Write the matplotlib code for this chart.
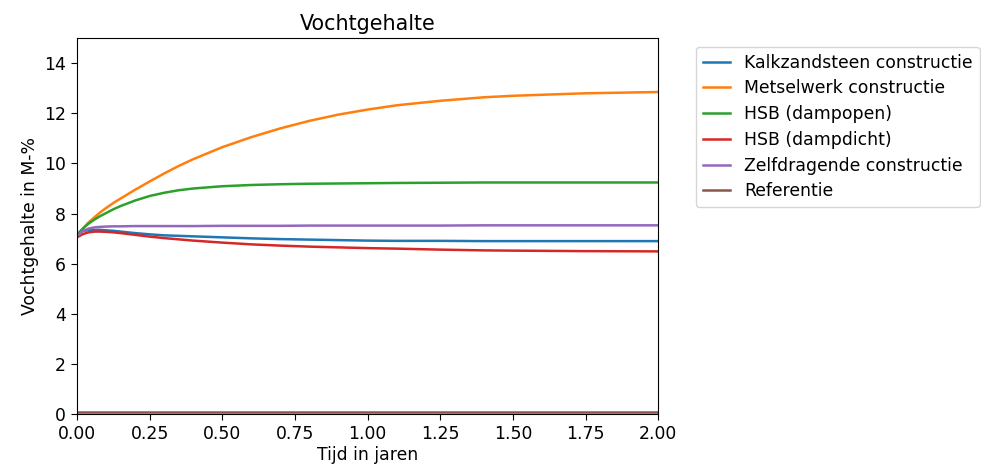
import matplotlib
matplotlib.use("Agg")
import matplotlib.pyplot as plt

# tijdstippen (jaren) en vochtgehalte per constructie (M-%)
tijd = [0, 0.02, 0.04, 0.06, 0.08, 0.1, 0.125, 0.15, 0.2, 0.25, 0.3, 0.35, 0.4,
        0.5, 0.6, 0.7, 0.8, 0.9, 1.0, 1.1, 1.25, 1.4, 1.5, 1.75, 2.0]

kalkzandsteen = [7.2, 7.3, 7.34, 7.35, 7.35, 7.33, 7.31, 7.28, 7.22, 7.17, 7.13, 7.11, 7.09,
                 7.05, 7.01, 6.98, 6.96, 6.94, 6.92, 6.91, 6.91, 6.9, 6.9, 6.9, 6.9]
metselwerk = [7.15, 7.4, 7.65, 7.85, 8.05, 8.22, 8.42, 8.6, 8.95, 9.28, 9.6, 9.9, 10.17,
              10.65, 11.05, 11.4, 11.7, 11.95, 12.15, 12.32, 12.5, 12.64, 12.7, 12.8, 12.85]
hsb_open = [7.15, 7.4, 7.6, 7.76, 7.9, 8.02, 8.17, 8.3, 8.52, 8.7, 8.83, 8.93, 9.0,
            9.09, 9.14, 9.17, 9.19, 9.2, 9.21, 9.22, 9.23, 9.24, 9.24, 9.24, 9.24]
hsb_dicht = [7.05, 7.18, 7.25, 7.28, 7.28, 7.27, 7.25, 7.22, 7.15, 7.08, 7.02, 6.97, 6.92,
             6.84, 6.77, 6.72, 6.68, 6.65, 6.62, 6.6, 6.56, 6.53, 6.52, 6.5, 6.49]
zelfdragend = [7.1, 7.3, 7.4, 7.45, 7.47, 7.48, 7.49, 7.49, 7.5, 7.5, 7.5, 7.5, 7.5,
               7.51, 7.51, 7.51, 7.52, 7.52, 7.52, 7.52, 7.52, 7.53, 7.53, 7.53, 7.53]
referentie = [0.1] * len(tijd)

labels = ['Kalkzandsteen constructie', 'Metselwerk constructie', 'HSB (dampopen)',
          'HSB (dampdicht)', 'Zelfdragende constructie', 'Referentie']

# tekst in de referentie is ongeveer 1.24x groter dan de standaard
plt.rcParams['font.size'] = 12.4
plt.rcParams['xtick.major.size'] = 4.3
plt.rcParams['ytick.major.size'] = 4.3
plt.rcParams['lines.linewidth'] = 1.8

fig = plt.figure(figsize=(9.81, 4.71), dpi=100)
ax = fig.add_axes([0.0785, 0.121, 0.5925, 0.798])

for reeks, label in zip([kalkzandsteen, metselwerk, hsb_open, hsb_dicht, zelfdragend, referentie], labels):
    ax.plot(tijd, reeks, label=label)

ax.set_xlim(0, 2)
ax.set_ylim(0, 15)
ax.set_xticks([0, 0.25, 0.5, 0.75, 1.0, 1.25, 1.5, 1.75, 2.0])
ax.set_yticks([0, 2, 4, 6, 8, 10, 12, 14])
ax.set_title('Vochtgehalte')
ax.set_xlabel('Tijd in jaren', labelpad=2)
ax.set_ylabel('Vochtgehalte in M-%')
ax.legend(bbox_to_anchor=(1.05, 1), loc='upper left', handlelength=1.6, labelspacing=0.45)

fig.savefig('out.png', dpi=100)
